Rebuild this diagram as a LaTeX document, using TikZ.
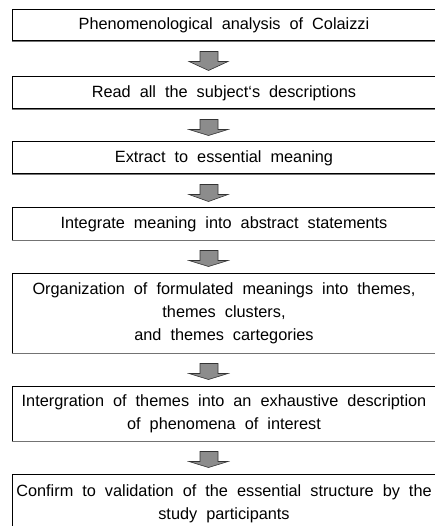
\documentclass[tikz,border=0pt]{standalone}
\usepackage{fontspec}
\setmainfont{Liberation Sans}
\usetikzlibrary{calc}
\newcommand\boxfont{\fontsize{16.3}{23}\selectfont\spaceskip=9pt\relax}
\tikzset{
  stepbox/.style={draw=black, line width=1pt, minimum width=424, inner xsep=0pt,
    inner ysep=0pt, align=center, font=\boxfont, anchor=center},
  bottomedge/.style={draw=black!55, line width=1.6pt},
  barrow/.style={draw=black!80, line width=0.6pt, fill=black!45, line join=miter},
}
\newcommand\flowarrow[2]{%
  \draw[barrow] ($(#1.south)+(-24,10)$) -- ++(18,0) -- ++(0,10) -- ++(10,0)
    -- ($(#2.north)+(-15.5,-6)$) -- ($(#1.south)+(-35,20)$) -- ++(11,0) -- cycle;}
\begin{document}
\begin{tikzpicture}[x=1pt, y=-1pt]
\useasboundingbox (0,0) rectangle (435,526);
\clip (0,0) rectangle (435,526);
\node[stepbox, minimum height=31] (b1) at (224,25.5) {Phenomenological analysis of Colaizzi};
\node[stepbox, minimum height=32] (b2) at (224,93) {Read all the subject`s descriptions};
\node[stepbox, minimum height=32] (b3) at (224,158) {Extract to essential meaning};
\node[stepbox, minimum height=32] (b4) at (224,224) {Integrate meaning into abstract statements};
\node[stepbox, minimum height=80] (b5) at (224,313) {Organization of formulated meanings into themes,\\ themes clusters,\\ and themes cartegories};
\node[stepbox, minimum height=55] (b6) at (224,413.5) {Intergration of themes into an exhaustive description\\ of phenomena of interest};
\node[stepbox, minimum height=60] (b7) at (224,504) {Confirm to validation of the essential structure by the\\ study participants};
\foreach \b in {b1,b2,b3,b4,b5,b6}{
  \draw[bottomedge] (\b.south west) -- (\b.south east);
}
\flowarrow{b1}{b2}
\flowarrow{b2}{b3}
\flowarrow{b3}{b4}
\flowarrow{b4}{b5}
\flowarrow{b5}{b6}
\flowarrow{b6}{b7}
\end{tikzpicture}
\end{document}
